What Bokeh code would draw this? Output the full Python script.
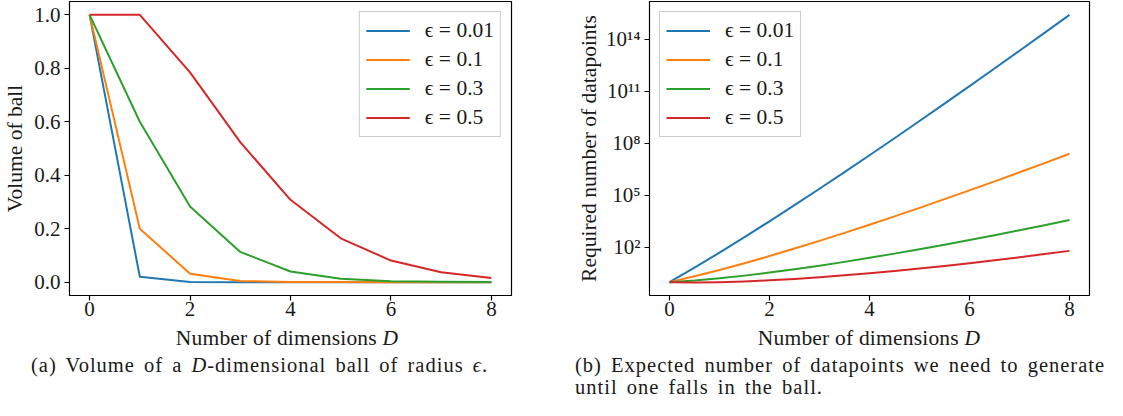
from bokeh.plotting import figure
from bokeh.models import (Range1d, FixedTicker, PrintfTickFormatter, CustomJSTickFormatter,
                          Legend, LegendItem, Div)
from bokeh.layouts import row, column
from bokeh.embed import file_html
from bokeh.resources import INLINE

# ---------------- data ----------------
series_labels = ["ϵ = 0.01", "ϵ = 0.1", "ϵ = 0.3", "ϵ = 0.5"]
series_colors = ["#1f77b4", "#ff7f0e", "#2ca02c", "#d62728"]

# (a) volume of a D-dimensional ball of radius eps (integer D)
dims = [0, 1, 2, 3, 4, 5, 6, 7, 8]
vol_eps001 = [1.0, 0.02, 3.14e-4, 4.19e-6, 4.93e-8, 5.26e-10, 5.17e-12, 4.72e-14, 4.06e-16]
vol_eps01 = [1.0, 0.2, 0.0314, 0.00419, 0.000493, 5.26e-5, 5.17e-6, 4.72e-7, 4.06e-8]
vol_eps03 = [1.0, 0.6, 0.283, 0.113, 0.0400, 0.0128, 0.00377, 0.00103, 0.000266]
vol_eps05 = [1.0, 1.0, 0.785, 0.524, 0.308, 0.164, 0.0807, 0.0369, 0.0159]

# (b) expected number of datapoints (D on a half-step grid)
dims_fine = [0, 0.5, 1, 1.5, 2, 2.5, 3, 3.5, 4, 4.5, 5, 5.5, 6, 6.5, 7, 7.5, 8]
num_eps001 = [1, 6.81, 50, 389.5, 3183, 2.709e4, 2.387e5, 2.170e6, 2.026e7, 1.940e8,
              1.900e9, 1.899e10, 1.935e11, 2.007e12, 2.117e13, 2.267e14, 2.464e15]
num_eps01 = [1, 2.153, 5, 12.32, 31.83, 85.67, 238.7, 686.1, 2026, 6135,
             1.900e4, 6.006e4, 1.935e5, 6.347e5, 2.117e6, 7.169e6, 2.464e7]
num_eps03 = [1, 1.243, 1.667, 2.370, 3.537, 5.496, 8.842, 14.67, 25.02, 43.73,
             78.18, 142.7, 265.5, 502.7, 967.8, 1892.5, 3755]
num_eps05 = [1, 0.963, 1.0, 1.102, 1.273, 1.533, 1.910, 2.455, 3.242, 4.390,
             6.079, 8.595, 12.39, 18.17, 27.09, 41.04, 63.07]

x_ticks = [0, 2, 4, 6, 8]
vol_ticks = [0.0, 0.2, 0.4, 0.6, 0.8, 1.0]
num_ticks = [1e2, 1e5, 1e8, 1e11, 1e14]

x_label_html = "Number of dimensions <i>D</i>"
y_label_a = "Volume of ball"
y_label_b = "Required number of datapoints"
caption_a_html = "(a) Volume of a <i>D</i>-dimensional ball of radius <i>ϵ</i>."
caption_b_lines = ["(b) Expected number of datapoints we need to generate",
                   "until one falls in the ball."]

# ---------------- styling ----------------
FONT = "Liberation Serif"
TXT = "#1a1a1a"
TICK_SIZE = "21px"
LABEL_SIZE = 21.5
CAP_SIZE = 20.5
CAP_LS, CAP_WS = 1.0, 3.0    # letter / word spacing of captions (px)

FW1, FW2 = 448, 440          # frame widths
BL1, BL2 = 63, 97            # left borders
W1, W2 = 552, 555            # figure widths
FH = 294                     # frame height
BT, BB = 1, 30               # top / bottom borders
H = BT + FH + BB             # figure height
DIV_H = 74


def style(p):
    p.outline_line_color = "black"
    p.outline_line_width = 1.2
    p.outline_line_alpha = 1.0
    p.xgrid.visible = False
    p.ygrid.visible = False
    for ax in p.axis:
        ax.axis_line_color = None
        ax.major_tick_out = 5
        ax.major_tick_in = 0
        ax.major_tick_line_color = "black"
        ax.major_tick_line_width = 1.2
        ax.minor_tick_line_color = None
        ax.major_label_text_font = FONT
        ax.major_label_text_font_size = TICK_SIZE
        ax.major_label_text_color = TXT
        ax.axis_label_text_font = FONT
        ax.axis_label_text_font_size = f"{LABEL_SIZE}px"
        ax.axis_label_text_font_style = "normal"
        ax.axis_label_text_color = TXT
    p.xaxis.major_label_standoff = 1
    p.yaxis.major_label_standoff = 4


def add_legend(p, renderers, location):
    items = [LegendItem(label=l, renderers=[r]) for l, r in zip(series_labels, renderers)]
    leg = Legend(items=items, location=location, margin=10, padding=6, spacing=4,
                 glyph_width=44, glyph_height=21, label_height=21, label_standoff=15,
                 label_text_font=FONT, label_text_font_size="21.5px", label_text_color=TXT,
                 border_line_color="#cccccc", border_line_width=1, border_line_alpha=1.0,
                 background_fill_color="white", background_fill_alpha=0.8)
    p.add_layout(leg)


def make_fig(width, left_border, frame_w, **kw):
    return figure(width=width, height=H, x_range=Range1d(-0.4, 8.4),
                  min_border_left=left_border, min_border_right=width - left_border - frame_w,
                  min_border_top=BT, min_border_bottom=BB, output_backend="svg",
                  toolbar_location=None, background_fill_color="white",
                  border_fill_color="white", **kw)


# ---------------- (a) ----------------
p1 = make_fig(W1, BL1, FW1, y_range=Range1d(-0.05, 1.05))
r1 = []
for ys, c in zip([vol_eps001, vol_eps01, vol_eps03, vol_eps05], series_colors):
    r1.append(p1.line(dims, ys, line_color=c, line_width=2, line_join="round"))
style(p1)
p1.xaxis.ticker = FixedTicker(ticks=x_ticks)
p1.yaxis.ticker = FixedTicker(ticks=vol_ticks)
p1.yaxis.formatter = PrintfTickFormatter(format="%.1f")
p1.yaxis.axis_label = y_label_a
p1.yaxis.axis_label_standoff = 4
add_legend(p1, r1, "top_right")

# ---------------- (b) ----------------
p2 = make_fig(W2, BL2, FW2, y_range=Range1d(10 ** -0.77, 10 ** 16.16), y_axis_type="log")
r2 = []
for ys, c in zip([num_eps001, num_eps01, num_eps03, num_eps05], series_colors):
    r2.append(p2.line(dims_fine, ys, line_color=c, line_width=2, line_join="round"))
style(p2)
p2.xaxis.ticker = FixedTicker(ticks=x_ticks)
p2.yaxis.ticker = FixedTicker(ticks=num_ticks)
p2.yaxis.formatter = CustomJSTickFormatter(code="""
const sup = {"0":"\u2070","1":"\u00b9","2":"\u00b2","3":"\u00b3","4":"\u2074",
             "5":"\u2075","6":"\u2076","7":"\u2077","8":"\u2078","9":"\u2079","-":"\u207b"};
const e = Math.round(Math.log10(tick));
return "10" + String(e).split("").map(c => sup[c]).join("");
""")
p2.yaxis.axis_label = y_label_b
p2.yaxis.axis_label_standoff = 2
add_legend(p2, r2, "top_left")

# ---------------- bottom texts (x-axis labels with italic D, captions) ----------------
# coordinates below are relative to the div's top-left corner (= bottom-left of the figures)


def block(left, baseline, size, lh, html, center=False, ls=0.0, ws=0.0):
    # baseline offset inside a line box of line-height lh (Liberation Serif metrics)
    top = baseline - ((lh - 1.107) / 2 + 0.891) * size
    tr = "transform:translateX(-50%);" if center else ""
    return (f'<div style="position:absolute;left:{left:.1f}px;top:{top:.2f}px;{tr}'
            f'font-size:{size}px;line-height:{lh};letter-spacing:{ls}px;word-spacing:{ws}px;">'
            f'{html}</div>')


parts = [
    block(BL1 + FW1 / 2, 21, LABEL_SIZE, 1.107, x_label_html, center=True, ls=0.2),
    block(W1 + BL2 + FW2 / 2, 21, LABEL_SIZE, 1.107, x_label_html, center=True, ls=0.2),
    block(31, 47, CAP_SIZE, 1.0, caption_a_html, ls=CAP_LS, ws=CAP_WS),
    block(575, 47, CAP_SIZE, 1.0, caption_b_lines[0], ls=CAP_LS, ws=CAP_WS),
    block(575, 69.5, CAP_SIZE, 1.0, caption_b_lines[1], ls=CAP_LS, ws=CAP_WS),
]
html = (f'<div style="position:relative;width:{W1 + W2}px;height:{DIV_H}px;overflow:hidden;'
        f"font-family:'{FONT}',serif;color:{TXT};white-space:nowrap;\">"
        + "".join(parts) + "</div>")
captions = Div(text=html, width=W1 + W2, height=DIV_H, margin=(0, 0, 0, 0))

layout = column(row(p1, p2, spacing=0), captions, spacing=0)
open("out.html", "w").write(file_html(layout, INLINE))
